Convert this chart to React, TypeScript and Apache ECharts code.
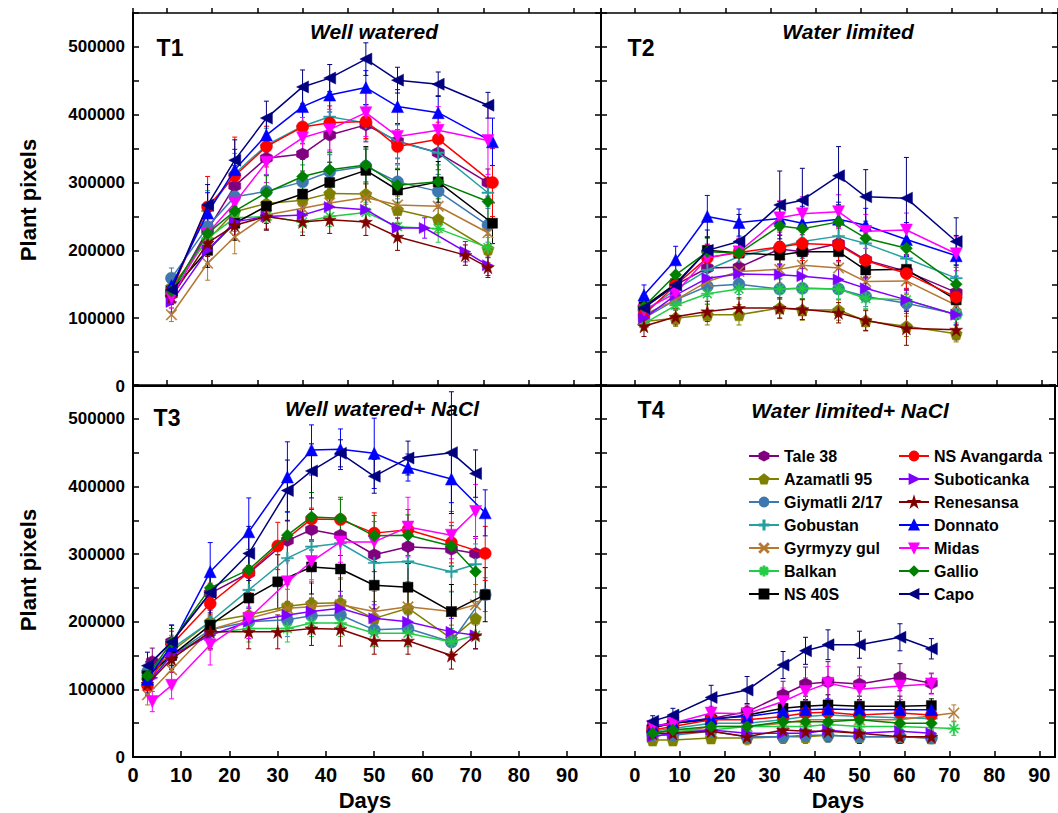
import React, { useEffect, useRef } from 'react';
import * as echarts from 'echarts';

const NAMES = ['Tale 38', 'Azamatli 95', 'Giymatli 2/17', 'Gobustan', 'Gyrmyzy gul', 'Balkan', 'NS 40S',
  'NS Avangarda', 'Suboticanka', 'Renesansa', 'Donnato', 'Midas', 'Gallio', 'Capo'];

const COLORS = ['#800080', '#808000', '#3d78b0', '#24a0a0', '#b47832', '#22cc44', '#000000',
  '#ff0000', '#8000ff', '#800000', '#0000ff', '#ff00ff', '#008000', '#000080'];

const HEX = 'path://M0,-1 L0.866,-0.5 L0.866,0.5 L0,1 L-0.866,0.5 L-0.866,-0.5 Z';
const PENT = 'path://M0,-1 L0.951,-0.309 L0.588,0.809 L-0.588,0.809 L-0.951,-0.309 Z';
const PLUS = 'path://M-1,-0.12 L-0.12,-0.12 L-0.12,-1 L0.12,-1 L0.12,-0.12 L1,-0.12 L1,0.12 L0.12,0.12 L0.12,1 L-0.12,1 L-0.12,0.12 L-1,0.12 Z';
const CROSS = 'path://M-1,-0.85 L-0.85,-1 L0,-0.15 L0.85,-1 L1,-0.85 L0.15,0 L1,0.85 L0.85,1 L0,0.15 L-0.85,1 L-1,0.85 L-0.15,0 Z';
const ASTER = 'path://M-1,-0.1 L-0.1,-0.1 L-0.1,-1 L0.1,-1 L0.1,-0.1 L1,-0.1 L1,0.1 L0.1,0.1 L0.1,1 L-0.1,1 L-0.1,0.1 L-1,0.1 Z M-0.78,-0.64 L-0.64,-0.78 L0,-0.14 L0.64,-0.78 L0.78,-0.64 L0.14,0 L0.78,0.64 L0.64,0.78 L0,0.14 L-0.64,0.78 L-0.78,0.64 L-0.14,0 Z';
const STAR = 'path://M0,-1 L0.223,-0.307 L0.951,-0.309 L0.361,0.117 L0.588,0.809 L0,0.38 L-0.588,0.809 L-0.361,0.117 L-0.951,-0.309 L-0.223,-0.307 Z';
const RIGHT = 'path://M-1,-1 L1,0 L-1,1 Z';
const LEFT = 'path://M1,-1 L-1,0 L1,1 Z';
const DOWN = 'path://M-1,-1 L1,-1 L0,1 Z';
const UP = 'path://M-1,1 L1,1 L0,-1 Z';
const DIAM = 'path://M0,-1 L1,0 L0,1 L-1,0 Z';

const SYMBOLS = [HEX, PENT, 'circle', PLUS, CROSS, ASTER, 'rect', 'circle', RIGHT, STAR, UP, DOWN, DIAM, LEFT];
const SIZES = [12, 12, 12, 12, 11, 12, 10, 12, 11, 13, 12, 12, 12, 12];

// ---- T1: Well watered ----
const DAYS_T1 = [1, 9, 15, 22, 30, 36, 44, 51, 57, 60, 66, 71, 72];
const T1_TALE = [135000, 230000, 295000, 336000, 342000, 370000, 385000, 361000, null, 344000, null, 300000, null];
const T1_AZAM = [146000, 215000, 257000, 269000, 274000, 284000, 283000, 260000, null, 246000, null, 202000, null];
const T1_GIYM = [159000, 235000, 279000, 287000, 301000, 316000, 324000, 301000, null, 287000, null, 237000, null];
const T1_GOBU = [145000, 258000, 313000, 355000, 383000, 397000, 388000, 360000, null, 344000, null, 285000, null];
const T1_GYRM = [105000, 181000, 220000, 252000, 262000, 270000, 278000, 267000, null, 265000, null, 226000, null];
const T1_BALK = [137000, 218000, 248000, 250000, 242000, 250000, 256000, 235000, null, 232000, null, 204000, null];
const T1_NS40 = [140000, 200000, 240000, 265000, 283000, 300000, 318000, 289000, null, 301000, null, null, 240000];
const T1_NSAV = [140000, 264000, 310000, 353000, 382000, 388000, 390000, 353000, null, 364000, null, null, 300000];
const T1_SUBO = [124000, 200000, 242000, 250000, 252000, 264000, 260000, 233000, 233000, null, 198000, 178000, null];
const T1_RENE = [131000, 211000, 237000, 250000, 242000, 245000, 242000, 220000, null, null, 193000, 175000, null];
const T1_DONN = [148000, 255000, 319000, 370000, 412000, 429000, 440000, 412000, null, 403000, null, null, 360000];
const T1_MIDA = [130000, 225000, 270000, 330000, 366000, 378000, 403000, 368000, null, 377000, null, 362000, null];
const T1_GALL = [140000, 225000, 258000, 285000, 309000, 319000, 326000, 296000, null, 301000, null, 272000, null];
const T1_CAPO = [142000, 267000, 333000, 395000, 441000, 454000, 482000, 451000, null, 445000, null, 414000, null];
// error bars (± standard error), T1
const T1_ERR_TALE = [15000, 25000, 30000, 25000, 25000, 25000, 25000, 25000, null, 25000, null, 20000, null];
const T1_ERR_AZAM = [20000, 20000, 20000, 20000, 20000, 15000, 15000, 20000, null, 20000, null, 20000, null];
const T1_ERR_GIYM = [15000, 25000, 25000, 25000, 25000, 25000, 25000, 25000, null, 25000, null, 25000, null];
const T1_ERR_GOBU = [15000, 30000, 30000, 25000, 25000, 25000, 25000, 25000, null, 25000, null, 20000, null];
const T1_ERR_GYRM = [10000, 25000, 25000, 20000, 20000, 20000, 20000, 20000, null, 20000, null, 20000, null];
const T1_ERR_BALK = [15000, 20000, 20000, 20000, 15000, 15000, 15000, 20000, null, 20000, null, 15000, null];
const T1_ERR_NS40 = [15000, 25000, 25000, 25000, 30000, 30000, 35000, 30000, null, 30000, null, null, 30000];
const T1_ERR_NSAV = [15000, 45000, 57000, 30000, 25000, 25000, 25000, 25000, null, 25000, null, null, 50000];
const T1_ERR_SUBO = [15000, 20000, 20000, 20000, 15000, 15000, 15000, 15000, 15000, null, 15000, 15000, null];
const T1_ERR_RENE = [10000, 20000, 20000, 20000, 20000, 20000, 20000, 20000, null, null, 15000, 15000, null];
const T1_ERR_DONN = [15000, 30000, 30000, 25000, 25000, 25000, 25000, 25000, null, 25000, null, null, 35000];
const T1_ERR_MIDA = [15000, 25000, 30000, 30000, 30000, 30000, 35000, 40000, null, 35000, null, 50000, null];
const T1_ERR_GALL = [15000, 25000, 25000, 25000, 25000, 25000, 25000, 25000, null, 25000, null, 25000, null];
const T1_ERR_CAPO = [15000, 30000, 30000, 25000, 25000, 20000, 24000, 19000, null, 18000, null, 19000, null];

// ---- T2: Water limited ----
const DAYS_T2 = [2, 9, 16, 23, 32, 37, 45, 51, 60, 71];
const T2_TALE = [115000, 149000, 174000, 175000, 202000, 198000, 210000, 186000, 169000, 138000];
const T2_AZAM = [95000, 100000, 105000, 105000, 115000, 112000, 112000, 96000, 88000, 77000];
const T2_GIYM = [100000, 127000, 147000, 150000, 143000, 144000, 143000, 132000, 122000, 106000];
const T2_GOBU = [110000, 142000, 171000, 191000, 205000, 213000, 221000, 210000, 188000, 159000];
const T2_GYRM = [105000, 127000, 154000, 169000, 172000, 178000, 174000, 154000, 155000, 119000];
const T2_BALK = [92000, 119000, 136000, 143000, 143000, 144000, 143000, 129000, 127000, 105000];
const T2_NS40 = [117000, 151000, 200000, 196000, 193000, 198000, 198000, 171000, 172000, 127000];
const T2_NSAV = [105000, 149000, 189000, 197000, 205000, 210000, 208000, 185000, 166000, 131000];
const T2_SUBO = [100000, 134000, 159000, 165000, 164000, 162000, 157000, 144000, 127000, 105000];
const T2_RENE = [88000, 102000, 110000, 115000, 115000, 113000, 108000, 97000, 85000, 83000];
const T2_DONN = [134000, 186000, 250000, 241000, 247000, 240000, 246000, 237000, 216000, 192000];
const T2_MIDA = [112000, 137000, 189000, 198000, 248000, 254000, 257000, 228000, 230000, 195000];
const T2_GALL = [117000, 164000, 198000, 196000, 236000, 232000, 242000, 218000, 203000, 150000];
const T2_CAPO = [115000, 149000, 200000, 213000, 267000, 274000, 310000, 279000, 277000, 213000];
const T2_ERR_TALE = [10000, 15000, 20000, 20000, 25000, 25000, 25000, 25000, 25000, 20000];
const T2_ERR_AZAM = [10000, 12000, 15000, 15000, 15000, 15000, 15000, 15000, 15000, 12000];
const T2_ERR_GIYM = [10000, 15000, 15000, 15000, 15000, 15000, 15000, 15000, 15000, 15000];
const T2_ERR_GOBU = [10000, 15000, 20000, 20000, 25000, 25000, 25000, 25000, 25000, 20000];
const T2_ERR_GYRM = [10000, 15000, 15000, 15000, 20000, 20000, 20000, 20000, 20000, 15000];
const T2_ERR_BALK = [10000, 12000, 15000, 15000, 15000, 15000, 15000, 15000, 15000, 12000];
const T2_ERR_NS40 = [10000, 15000, 20000, 20000, 20000, 20000, 20000, 20000, 20000, 15000];
const T2_ERR_NSAV = [10000, 15000, 20000, 20000, 25000, 25000, 25000, 25000, 25000, 20000];
const T2_ERR_SUBO = [10000, 15000, 15000, 15000, 15000, 15000, 15000, 15000, 15000, 15000];
const T2_ERR_RENE = [15000, 12000, 15000, 15000, 15000, 15000, 15000, 15000, 25000, 15000];
const T2_ERR_DONN = [15000, 20000, 31000, 20000, 25000, 25000, 25000, 25000, 25000, 30000];
const T2_ERR_MIDA = [10000, 15000, 20000, 20000, 25000, 25000, 25000, 25000, 25000, 25000];
const T2_ERR_GALL = [10000, 15000, 20000, 20000, 25000, 25000, 25000, 25000, 25000, 25000];
const T2_ERR_CAPO = [10000, 20000, 30000, 40000, 50000, 47000, 43000, 40000, 60000, 35000];

// ---- T3: Well watered + NaCl ----
const DAYS_T3 = [3, 4, 8, 16, 24, 30, 32, 37, 43, 50, 57, 66, 71, 73];
const T3_TALE = [null, 141000, 170000, 242000, 272000, null, 320000, 336000, 328000, 299000, 311000, 307000, 301000, null];
const T3_AZAM = [115000, null, 156000, 200000, 210000, null, 223000, 227000, 228000, 205000, 220000, 175000, 205000, null];
const T3_GIYM = [126000, null, 150000, 188000, 200000, null, 203000, 209000, 210000, 188000, 190000, 170000, null, 240000];
const T3_GOBU = [125000, null, 160000, 200000, 247000, null, 294000, 311000, 316000, 287000, 289000, 274000, 285000, null];
const T3_GYRM = [92000, null, 129000, 188000, 205000, null, 220000, 222000, 225000, 215000, 222000, 215000, 225000, null];
const T3_BALK = [115000, null, 150000, 183000, 190000, null, 190000, 198000, 198000, 183000, 183000, 170000, 180000, null];
const T3_NS40 = [120000, null, 150000, 195000, 235000, 259000, null, 281000, 278000, 254000, 251000, 215000, null, 240000];
const T3_NSAV = [106000, null, 166000, 227000, 273000, 312000, null, 352000, 351000, 331000, 336000, 317000, null, 301000];
const T3_SUBO = [null, 117000, 150000, 180000, 200000, null, 210000, 215000, 220000, 205000, 200000, 185000, 180000, null];
const T3_RENE = [108000, null, 145000, 185000, 185000, 185000, null, 190000, 189000, 172000, 172000, 150000, 180000, null];
const T3_DONN = [115000, null, 165000, 274000, 333000, null, 414000, 454000, 455000, 449000, 428000, 411000, null, 361000];
const T3_MIDA = [null, 82000, 106000, 166000, 205000, null, 259000, 289000, 318000, 318000, 340000, 328000, 363000, null];
const T3_GALL = [120000, null, 170000, 250000, 277000, null, 328000, 355000, 353000, 327000, 328000, 312000, 274000, null];
const T3_CAPO = [135000, null, 170000, 243000, 301000, null, 394000, 423000, 449000, 415000, 442000, 450000, 419000, null];
const T3_ERR_TALE = [null, 20000, 20000, 25000, 25000, null, 30000, 30000, 30000, 25000, 25000, 25000, 25000, null];
const T3_ERR_AZAM = [15000, null, 20000, 20000, 20000, null, 25000, 30000, 35000, 25000, 25000, 20000, 25000, null];
const T3_ERR_GIYM = [15000, null, 20000, 20000, 20000, null, 25000, 25000, 25000, 20000, 20000, 20000, null, 25000];
const T3_ERR_GOBU = [15000, null, 20000, 25000, 25000, null, 30000, 35000, 35000, 30000, 30000, 30000, 30000, null];
const T3_ERR_GYRM = [15000, null, 20000, 30000, 30000, null, 35000, 40000, 40000, 30000, 30000, 30000, 30000, null];
const T3_ERR_BALK = [15000, null, 15000, 20000, 20000, null, 20000, 20000, 20000, 20000, 20000, 20000, 20000, null];
const T3_ERR_NS40 = [15000, null, 20000, 25000, 30000, 40000, null, 40000, 40000, 35000, 35000, 40000, null, 40000];
const T3_ERR_NSAV = [15000, null, 20000, 30000, 30000, 35000, null, 16000, 30000, 30000, 30000, 30000, null, 40000];
const T3_ERR_SUBO = [null, 15000, 20000, 20000, 20000, null, 20000, 20000, 25000, 20000, 20000, 20000, 20000, null];
const T3_ERR_RENE = [15000, null, 20000, 25000, 25000, 25000, null, 25000, 25000, 20000, 20000, 20000, 20000, null];
const T3_ERR_DONN = [20000, null, 30000, 43000, 50000, null, 52000, 37000, 30000, 52000, 20000, 35000, null, 34000];
const T3_ERR_MIDA = [null, 15000, 20000, 30000, 30000, null, 35000, 30000, 30000, 30000, 44000, 35000, 40000, null];
const T3_ERR_GALL = [15000, null, 20000, 25000, 30000, null, 35000, 36000, 31000, 30000, 30000, 30000, 30000, null];
const T3_ERR_CAPO = [20000, null, 25000, 30000, 40000, null, 45000, 40000, 20000, 25000, 25000, 90000, 35000, null];

// ---- T4: Water limited + NaCl ----
const DAYS_T4 = [4, 8.5, 17, 25, 33, 38, 43, 50, 59, 66, 71];
const T4_TALE = [43000, 50000, 57000, 67000, 92000, 108000, 111000, 108000, 118000, 109000, null];
const T4_AZAM = [25000, 25000, 28000, 28000, 30000, 30000, 32000, 30000, 30000, 28000, null];
const T4_GIYM = [32000, 32000, 38000, 30000, 30000, 32000, 32000, 30000, 30000, 28000, null];
const T4_GOBU = [38000, 42000, 50000, 50000, 55000, 60000, 62000, 60000, 58000, 57000, null];
const T4_GYRM = [30000, 35000, 45000, 45000, 50000, 55000, 55000, 55000, 55000, null, 65000];
const T4_BALK = [35000, 40000, 40000, 45000, 45000, 45000, 48000, 45000, 45000, null, 42000];
const T4_NS40 = [44000, 50000, 55000, 62000, 72000, 75000, 77000, 75000, 75000, 76000, null];
const T4_NSAV = [40000, 45000, 55000, 55000, 60000, 65000, 66000, 62000, 65000, 62000, null];
const T4_SUBO = [30000, 35000, 40000, 35000, 35000, 35000, 40000, 35000, 38000, 35000, null];
const T4_RENE = [35000, 35000, 38000, 30000, 40000, 38000, 38000, 35000, 30000, 30000, null];
const T4_DONN = [45000, 51000, 57000, 60000, 67000, 70000, 71000, 70000, 70000, 70000, null];
const T4_MIDA = [45000, 50000, 65000, 64000, 82000, 97000, 109000, 100000, 105000, 108000, null];
const T4_GALL = [35000, 40000, 45000, 45000, 52000, 52000, 52000, 55000, 50000, 50000, null];
const T4_CAPO = [53000, 62000, 88000, 99000, 136000, 157000, 166000, 166000, 177000, 160000, null];
const T4_ERR_TALE = [8000, 8000, 10000, 10000, 20000, 25000, 30000, 25000, 20000, 15000, null];
const T4_ERR_AZAM = [8000, 8000, 8000, 10000, 10000, 10000, 10000, 10000, 10000, 8000, null];
const T4_ERR_GIYM = [8000, 8000, 8000, 10000, 10000, 10000, 10000, 10000, 10000, 8000, null];
const T4_ERR_GOBU = [8000, 8000, 10000, 10000, 15000, 15000, 15000, 15000, 15000, 10000, null];
const T4_ERR_GYRM = [8000, 8000, 10000, 10000, 15000, 15000, 15000, 15000, 15000, null, 12000];
const T4_ERR_BALK = [8000, 8000, 10000, 10000, 15000, 15000, 15000, 15000, 15000, null, 10000];
const T4_ERR_NS40 = [8000, 8000, 10000, 10000, 15000, 15000, 15000, 15000, 15000, 10000, null];
const T4_ERR_NSAV = [8000, 8000, 10000, 10000, 15000, 15000, 15000, 15000, 15000, 10000, null];
const T4_ERR_SUBO = [8000, 8000, 10000, 10000, 10000, 10000, 10000, 10000, 10000, 8000, null];
const T4_ERR_RENE = [8000, 8000, 10000, 10000, 15000, 15000, 15000, 15000, 10000, 8000, null];
const T4_ERR_DONN = [8000, 8000, 10000, 10000, 15000, 15000, 15000, 15000, 15000, 10000, null];
const T4_ERR_MIDA = [8000, 8000, 10000, 10000, 20000, 20000, 25000, 20000, 20000, 15000, null];
const T4_ERR_GALL = [8000, 8000, 10000, 10000, 15000, 15000, 15000, 15000, 15000, 10000, null];
const T4_ERR_CAPO = [8000, 10000, 18000, 20000, 20000, 20000, 22000, 20000, 20000, 15000, null];

const PANELS = [
  {
    days: DAYS_T1,
    rows: [T1_TALE, T1_AZAM, T1_GIYM, T1_GOBU, T1_GYRM, T1_BALK, T1_NS40, T1_NSAV, T1_SUBO, T1_RENE, T1_DONN, T1_MIDA, T1_GALL, T1_CAPO],
    errs: [T1_ERR_TALE, T1_ERR_AZAM, T1_ERR_GIYM, T1_ERR_GOBU, T1_ERR_GYRM, T1_ERR_BALK, T1_ERR_NS40, T1_ERR_NSAV, T1_ERR_SUBO, T1_ERR_RENE, T1_ERR_DONN, T1_ERR_MIDA, T1_ERR_GALL, T1_ERR_CAPO],
  },
  {
    days: DAYS_T2,
    rows: [T2_TALE, T2_AZAM, T2_GIYM, T2_GOBU, T2_GYRM, T2_BALK, T2_NS40, T2_NSAV, T2_SUBO, T2_RENE, T2_DONN, T2_MIDA, T2_GALL, T2_CAPO],
    errs: [T2_ERR_TALE, T2_ERR_AZAM, T2_ERR_GIYM, T2_ERR_GOBU, T2_ERR_GYRM, T2_ERR_BALK, T2_ERR_NS40, T2_ERR_NSAV, T2_ERR_SUBO, T2_ERR_RENE, T2_ERR_DONN, T2_ERR_MIDA, T2_ERR_GALL, T2_ERR_CAPO],
  },
  {
    days: DAYS_T3,
    rows: [T3_TALE, T3_AZAM, T3_GIYM, T3_GOBU, T3_GYRM, T3_BALK, T3_NS40, T3_NSAV, T3_SUBO, T3_RENE, T3_DONN, T3_MIDA, T3_GALL, T3_CAPO],
    errs: [T3_ERR_TALE, T3_ERR_AZAM, T3_ERR_GIYM, T3_ERR_GOBU, T3_ERR_GYRM, T3_ERR_BALK, T3_ERR_NS40, T3_ERR_NSAV, T3_ERR_SUBO, T3_ERR_RENE, T3_ERR_DONN, T3_ERR_MIDA, T3_ERR_GALL, T3_ERR_CAPO],
  },
  {
    days: DAYS_T4,
    rows: [T4_TALE, T4_AZAM, T4_GIYM, T4_GOBU, T4_GYRM, T4_BALK, T4_NS40, T4_NSAV, T4_SUBO, T4_RENE, T4_DONN, T4_MIDA, T4_GALL, T4_CAPO],
    errs: [T4_ERR_TALE, T4_ERR_AZAM, T4_ERR_GIYM, T4_ERR_GOBU, T4_ERR_GYRM, T4_ERR_BALK, T4_ERR_NS40, T4_ERR_NSAV, T4_ERR_SUBO, T4_ERR_RENE, T4_ERR_DONN, T4_ERR_MIDA, T4_ERR_GALL, T4_ERR_CAPO],
  },
];

const FONT = 'Arial, "Liberation Sans", Helvetica, sans-serif';

const GRIDS = [
  { left: 133, top: 13, width: 468, height: 373 },
  { left: 601, top: 13, width: 457, height: 373 },
  { left: 133, top: 385, width: 468, height: 372 },
  { left: 601, top: 385, width: 457, height: 372 },
];
const XRANGE = [
  { min: -7.5, max: 96 },
  { min: -7.5, max: 93.5 },
  { min: 0, max: 97 },
  { min: -7.5, max: 93.5 },
];

export default function App() {
  const ref = useRef<HTMLDivElement>(null);
  useEffect(() => {
    if (!ref.current) return;
    const chart = echarts.init(ref.current, null, { renderer: 'svg' });

    const labelFmt = (v: number) => (Math.abs(v % 10) < 1e-6 && v >= 0 && v <= 90 ? String(Math.round(v)) : '');

    const xAxis: any[] = XRANGE.map((r, p) => ({
      gridIndex: p,
      type: 'value',
      min: r.min,
      max: r.max,
      ...(r.min === 0 ? { interval: 10 } : { splitNumber: 10 }),
      axisLine: { show: true, onZero: false, lineStyle: { color: '#000', width: 2 } },
      axisTick: { show: true, inside: true, length: 6, lineStyle: { color: '#000', width: 1.5 } },
      axisLabel: {
        show: p >= 2,
        color: '#000',
        fontWeight: 'bold',
        fontSize: 20,
        fontFamily: FONT,
        margin: 8,
        showMinLabel: r.min === 0,
        formatter: labelFmt,
      },
      splitLine: { show: false },
    }));
    [0, 1].forEach((p) => {
      const r = XRANGE[p];
      xAxis.push({
        gridIndex: p,
        type: 'value',
        min: r.min,
        max: r.max,
        splitNumber: 10,
        axisLine: { show: false, onZero: false },
        axisTick: { show: true, inside: false, length: 5, lineStyle: { color: '#000', width: 1.5 } },
        axisLabel: { show: false },
        splitLine: { show: false },
      });
    });

    const yAxis: any[] = [];
    for (let p = 0; p < 4; p++) {
      for (const pos of ['left', 'right']) {
        yAxis.push({
          gridIndex: p,
          type: 'value',
          position: pos,
          min: 0,
          max: 550000,
          interval: 50000,
          axisLine: { show: true, onZero: false, lineStyle: { color: '#000', width: 2 } },
          axisTick: { show: true, inside: true, length: 6, lineStyle: { color: '#000', width: 1.5 } },
          axisLabel: {
            show: pos === 'left' && p % 2 === 0,
            color: '#000',
            fontWeight: 'bold',
            fontSize: 17,
            fontFamily: FONT,
            margin: 8,
            formatter: (v: number) => (v % 100000 === 0 ? String(v) : ''),
          },
          splitLine: { show: false },
        });
      }
    }

    const series: any[] = [];
    PANELS.forEach((panel, p) => {
      const errData: any[] = [];
      panel.rows.forEach((vals, i) => {
        const errs = panel.errs[i];
        panel.days.forEach((d, k) => {
          const v = vals[k];
          const e = errs[k];
          if (v === null || e === null) return;
          errData.push([d, (v as number) - (e as number), (v as number) + (e as number), i]);
        });
      });
      series.push({
        type: 'custom',
        xAxisIndex: p,
        yAxisIndex: p * 2,
        silent: true,
        z: 2,
        encode: { x: 0, y: [1, 2] },
        data: errData,
        renderItem: (_params: any, api: any) => {
          const x = api.value(0);
          const a = api.coord([x, api.value(1)]);
          const b = api.coord([x, api.value(2)]);
          const c = COLORS[api.value(3)];
          const style = { stroke: c, lineWidth: 1 };
          return {
            type: 'group',
            children: [
              { type: 'line', shape: { x1: a[0], y1: a[1], x2: b[0], y2: b[1] }, style },
              { type: 'line', shape: { x1: a[0] - 2.5, y1: a[1], x2: a[0] + 2.5, y2: a[1] }, style },
              { type: 'line', shape: { x1: b[0] - 2.5, y1: b[1], x2: b[0] + 2.5, y2: b[1] }, style },
            ],
          };
        },
      });
      panel.rows.forEach((vals, i) => {
        const data = panel.days
          .map((d, k) => [d, vals[k]])
          .filter((pt) => pt[1] !== null && pt[1] !== undefined);
        series.push({
          type: 'line',
          name: NAMES[i],
          xAxisIndex: p,
          yAxisIndex: p * 2,
          data,
          symbol: SYMBOLS[i],
          symbolSize: SIZES[i],
          showAllSymbol: true,
          lineStyle: { color: COLORS[i], width: 1.5 },
          itemStyle: { color: COLORS[i], borderColor: COLORS[i], borderWidth: 0.5 },
          z: 3 + i,
        });
      });
    });

    const legendBase = {
      orient: 'vertical',
      itemWidth: 30,
      itemHeight: 11,
      itemGap: 7,
      textStyle: { color: '#000', fontSize: 16, fontWeight: 'bold', fontFamily: FONT },
      selectedMode: false,
    };

    const textEl = (x: number, y: number, text: string, font: string, rot = 0) => ({
      type: 'text',
      x,
      y,
      rotation: rot,
      z: 100,
      style: { text, font, fill: '#000', textAlign: 'center', textVerticalAlign: 'middle', align: 'center', verticalAlign: 'middle' },
    });

    chart.setOption({
      animation: false,
      backgroundColor: '#fff',
      grid: GRIDS.map((g) => ({ ...g, show: true, borderColor: '#000', borderWidth: 1.5, containLabel: false })),
      xAxis,
      yAxis,
      legend: [
        { ...legendBase, data: NAMES.slice(0, 7), left: 743, top: 443 },
        { ...legendBase, data: NAMES.slice(7), left: 893, top: 443 },
      ],
      graphic: [
        textEl(170, 48, 'T1', `bold 23px ${FONT}`),
        textEl(641, 48, 'T2', `bold 23px ${FONT}`),
        textEl(167, 418, 'T3', `bold 23px ${FONT}`),
        textEl(651, 410, 'T4', `bold 23px ${FONT}`),
        textEl(374, 31, 'Well watered', `italic bold 21px ${FONT}`),
        textEl(848, 31, 'Water limited', `italic bold 21px ${FONT}`),
        textEl(382, 408, 'Well watered+ NaCl', `italic bold 21px ${FONT}`),
        textEl(850, 410, 'Water limited+ NaCl', `italic bold 21px ${FONT}`),
        textEl(28, 200, 'Plant pixels', `bold 22px ${FONT}`, Math.PI / 2),
        textEl(28, 570, 'Plant pixels', `bold 22px ${FONT}`, Math.PI / 2),
        textEl(365, 800, 'Days', `bold 22px ${FONT}`),
        textEl(838, 800, 'Days', `bold 22px ${FONT}`),
      ],
      series,
    });
    return () => chart.dispose();
  }, []);
  return <div ref={ref} style={{ position: 'absolute', left: 0, top: 0, width: 1058, height: 813, background: '#fff' }} />;
}
